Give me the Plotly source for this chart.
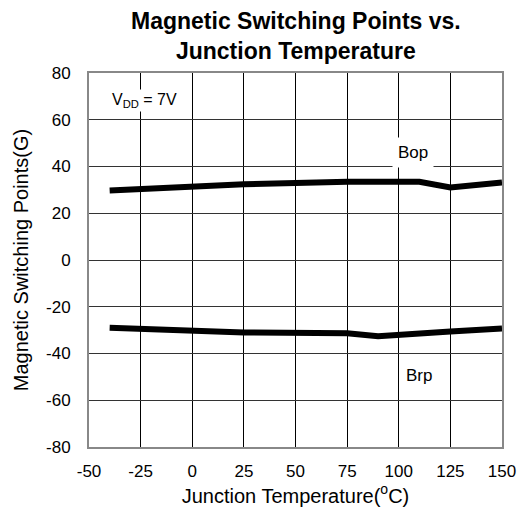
import plotly.graph_objects as go

temp_bop = [-40, 25, 75, 110, 125, 150]
bop = [29.7, 32.4, 33.5, 33.5, 31.0, 33.2]
temp_brp = [-40, 25, 75, 90, 125, 150]
brp = [-29.0, -31.0, -31.3, -32.6, -30.6, -29.3]
x_ticks = [-50, -25, 0, 25, 50, 75, 100, 125, 150]
y_ticks = [-80, -60, -40, -20, 0, 20, 40, 60, 80]

FONT = "Liberation Sans, Arial, sans-serif"

fig = go.Figure()
fig.add_trace(go.Scatter(x=temp_bop, y=bop, mode="lines", name="Bop",
                         line=dict(color="black", width=6), showlegend=False))
fig.add_trace(go.Scatter(x=temp_brp, y=brp, mode="lines", name="Brp",
                         line=dict(color="black", width=6), showlegend=False))

fig.add_annotation(x=-40, y=68.4, text="V<sub style='font-size:10px'>DD</sub> = 7V", showarrow=False,
                   xanchor="left", yanchor="middle", bgcolor="white",
                   font=dict(family=FONT, size=16, color="black"))
fig.add_annotation(x=107, y=46, text="Bop", showarrow=False,
                   xanchor="center", yanchor="middle", bgcolor="white",
                   borderpad=5, font=dict(family=FONT, size=17, color="black"))
fig.add_annotation(x=110, y=-49.2, text="Brp", showarrow=False,
                   xanchor="center", yanchor="middle", bgcolor="white",
                   borderpad=3, font=dict(family=FONT, size=17, color="black"))
fig.add_annotation(xref="paper", yref="paper", x=0.5, y=1.018,
                   xanchor="center", yanchor="bottom", showarrow=False,
                   text="<b>Magnetic Switching Points vs.<br>Junction Temperature</b>",
                   font=dict(family=FONT, size=23, color="black"))

fig.update_layout(
    width=519, height=510,
    margin=dict(l=81, r=25, t=65, b=71),
    paper_bgcolor="white", plot_bgcolor="white",
    font=dict(family=FONT, color="black"),
)
fig.update_xaxes(range=[-50, 150], tickvals=x_ticks, ticktext=[str(v) for v in x_ticks],
                 showgrid=True, gridcolor="black", gridwidth=1, zeroline=False,
                 showline=True, linecolor="#888888", linewidth=2, mirror=True,
                 ticks="", ticklabelstandoff=8,
                 tickfont=dict(family=FONT, size=17, color="black"),
                 title=dict(text="Junction Temperature(<sup>o</sup>C)", standoff=6,
                            font=dict(family=FONT, size=20, color="black")))
fig.update_yaxes(range=[-80, 80], tickvals=y_ticks, ticktext=[str(v) for v in y_ticks],
                 showgrid=True, gridcolor="#333333", gridwidth=1, zeroline=False,
                 showline=True, linecolor="#888888", linewidth=2, mirror=True,
                 ticks="", ticklabelstandoff=13,
                 tickfont=dict(family=FONT, size=17, color="black"),
                 title=dict(text="Magnetic Switching Points(G)", standoff=12,
                            font=dict(family=FONT, size=20, color="black")))

fig.write_html("out.html")
